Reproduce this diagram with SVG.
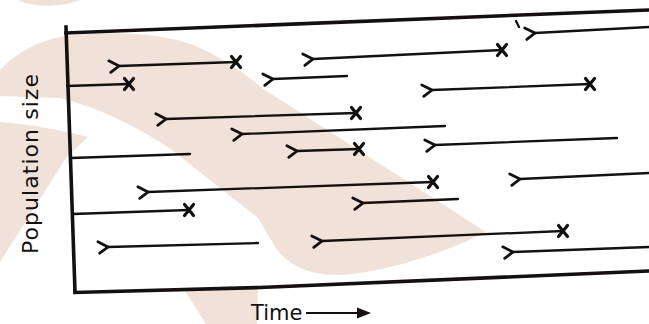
<svg xmlns="http://www.w3.org/2000/svg" width="649" height="324" viewBox="0 0 649 324">
  <style>
    .wm { fill: #f0e1d9; stroke: none; }
    .frame { fill: none; stroke: #141010; stroke-width: 3.6; stroke-linecap: square; stroke-linejoin: miter; }
    .lin { fill: none; stroke: #141010; stroke-width: 2.3; stroke-linecap: round; }
    .born { marker-start: url(#chev); }
    .dies { marker-end: url(#cross); }
    .lbl { font-family: "DejaVu Sans", "Noto Sans", sans-serif; fill: #141010; }
  </style>
  <defs>
    <!-- origin of a lineage: chevron opening backwards -->
    <marker id="chev" viewBox="-13 -8 15 16" refX="0" refY="0" markerWidth="15" markerHeight="16" markerUnits="userSpaceOnUse" orient="auto" overflow="visible">
      <path d="M-10,-5.5 L0,0 L-8.5,6" fill="none" stroke="#141010" stroke-width="2.8" stroke-linecap="round" stroke-linejoin="miter"/>
    </marker>
    <!-- extinction of a lineage -->
    <marker id="cross" viewBox="-8 -8 16 16" refX="0" refY="0" markerWidth="16" markerHeight="16" markerUnits="userSpaceOnUse" orient="0" overflow="visible">
      <path d="M-4.5,-5.5 L4.5,5.5 M4.5,-5.5 L-4.5,5.5" fill="none" stroke="#141010" stroke-width="3.2" stroke-linecap="round"/>
    </marker>
  </defs>

  <rect width="649" height="324" fill="#ffffff"/>

  <!-- pale background swash -->
  <g id="backdrop">
    <path class="wm" d="M18,0 C30,7 62,8 80,0 Z"/>
    <path class="wm" d="M0,70 C20,50 40,40 66,36 C120,30 170,34 200,48 C230,62 250,78 262,88 L486,232 C450,250 400,268 352,274 C315,278 290,268 276,248 L258,218 L172,150 C140,128 100,108 60,98 L0,96 Z"/>
    <path class="wm" d="M0,122 C30,124 60,130 88,137 L66,158 L0,262 Z"/>
    <path class="wm" d="M185,291 L258,289 L257,324 L206,324 Z"/>
  </g>

  <!-- plot frame -->
  <g id="frame">
    <path class="frame" d="M66,33 L649,10"/>
    <path class="frame" d="M66,27 L75,292"/>
    <path class="frame" d="M75,292.5 L260,287.5 L649,271"/>
  </g>

  <!-- lineages through time -->
  <g id="lineages">
    <path class="lin born dies" d="M119,66 L236,62"/>
    <path class="lin dies" d="M67,86 L129,84"/>
    <path class="lin born" d="M273,79 L347,76"/>
    <path class="lin born dies" d="M313,59 L502,50"/>
    <path class="lin born" d="M535,33 L649,27"/>
    <path class="lin" d="M516,21 L519,27" stroke-width="2.8"/>
    <path class="lin born dies" d="M432,90 L590,84"/>
    <path class="lin born dies" d="M166,119 L356,113"/>
    <path class="lin born" d="M242,134 L445,126"/>
    <path class="lin born dies" d="M297,151 L359,149"/>
    <path class="lin born" d="M435,145 L617,138"/>
    <path class="lin" d="M71,158 L190,154"/>
    <path class="lin born dies" d="M148,192 L433,182"/>
    <path class="lin born" d="M520,179 L649,173"/>
    <path class="lin dies" d="M73,214 L189,210"/>
    <path class="lin born" d="M363,203 L458,199"/>
    <path class="lin born" d="M108,247 L258,243"/>
    <path class="lin born dies" d="M322,241 L563,231"/>
    <path class="lin born" d="M513,252 L649,247"/>
  </g>

  <!-- axis labels -->
  <g id="labels">
    <text class="lbl" font-size="22" text-anchor="middle" textLength="180" lengthAdjust="spacing" transform="translate(38,164) rotate(-90)">Population size</text>
    <text class="lbl" font-size="21" x="251" y="320">Time</text>
    <path d="M306,313 L360,313" fill="none" stroke="#141010" stroke-width="2.2"/>
    <path d="M357,307.5 L371,313 L357,318.5 Z" fill="#141010"/>
  </g>
</svg>
